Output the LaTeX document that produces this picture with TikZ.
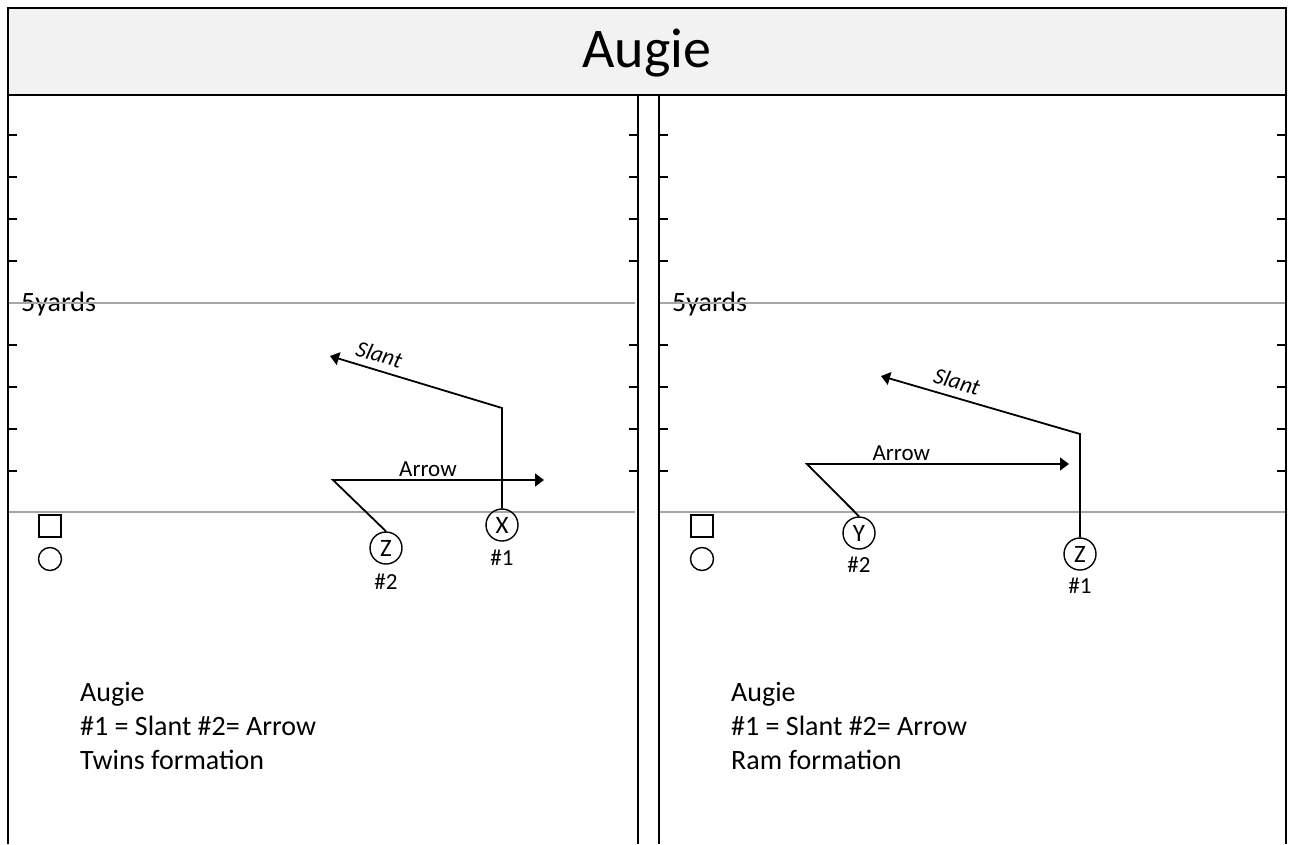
\documentclass[tikz,border=0pt]{standalone}
\usepackage{fontspec}
\setmainfont{Carlito}
\usetikzlibrary{arrows.meta}

\tikzset{
  frame/.style={draw=black, line width=1.8pt},
  yardline/.style={draw=black!35, line width=2.8pt},
  tick/.style={draw=black, line width=1.5pt},
  player/.style={draw, circle, line width=1.4pt, minimum size=32pt, inner sep=0pt,
    font=\fontsize{25}{25}\selectfont},
  center/.style={draw, rectangle, line width=1.4pt, minimum size=22pt, inner sep=0pt},
  qb/.style={draw, circle, line width=1.4pt, minimum size=23pt, inner sep=0pt},
  tag/.style={font=\fontsize{23}{23}\selectfont, inner sep=0pt},
  route/.style={draw, line width=1.8pt, -{Triangle[length=9pt,width=13pt]}},
  routelabel/.style={font=\fontsize{23}{23}\selectfont, inner sep=2pt},
  notes/.style={font=\fontsize{28}{34}\selectfont, align=left, inner sep=0pt, anchor=north west},
  yards/.style={font=\fontsize{28}{28}\selectfont, inner sep=0pt, anchor=base west}
}

\begin{document}
\begin{tikzpicture}[x=1pt, y=-1pt]
  \useasboundingbox[fill=white] (0,0) rectangle (1294,844);

  \draw[frame, fill=black!5] (8,8) rectangle (1286,95);
  \node[font=\fontsize{56}{56}\selectfont] (title) at (647,53) {Augie};

  \node[yards] (lyards) at (21,311) {5yards};
  \node[yards] (ryards) at (672,311) {5yards};

  \foreach \x in {8,659} {
    \draw[yardline] (\x,303) -- (\x+627,303);
    \draw[yardline] (\x,512) -- (\x+627,512);
  }
  \foreach \y in {135,177,219,261,345,387,429,471} {
    \draw[tick] (8,\y) -- (17,\y);
    \draw[tick] (638,\y) -- (629,\y);
    \draw[tick] (659,\y) -- (668,\y);
    \draw[tick] (1286,\y) -- (1277,\y);
  }
  \draw[frame] (8,95) -- (8,844);
  \draw[frame] (638,95) -- (638,844);
  \draw[frame] (659,95) -- (659,844);
  \draw[frame] (1286,95) -- (1286,844);

  \node[center] (lc) at (50,526) {};
  \node[qb] (lqb) at (50,559) {};
  \node[player] (lz) at (386,548) {Z};
  \node[tag] (lztag) at (386,582) {\#2};
  \node[player] (lx) at (502,525) {X};
  \node[tag] (lxtag) at (502,558) {\#1};

  \coordinate (lxbreak) at (502,408);
  \coordinate (lxend) at (330,356);
  \coordinate (lzbreak) at (333,480);
  \coordinate (lzend) at (544,480);
  \draw[route] (lx.north) -- (lxbreak) -- node[routelabel, sloped, above=5pt, pos=0.74] {\textit{Slant}} (lxend);
  \draw[route] (lz.north) -- (lzbreak) -- node[routelabel, above, pos=0.45] {Arrow} (lzend);

  \node[notes] (lnotes) at (80,682) {Augie\\\#1 = Slant \#2= Arrow\\Twins formation};

  \node[center] (rc) at (702,526) {};
  \node[qb] (rqb) at (702,559) {};
  \node[player] (ry) at (859,533) {Y};
  \node[tag] (rytag) at (859,565) {\#2};
  \node[player] (rz) at (1080,554) {Z};
  \node[tag] (rztag) at (1080,586) {\#1};

  \coordinate (rzbreak) at (1080,434);
  \coordinate (rzend) at (881,376);
  \coordinate (rybreak) at (807,464);
  \coordinate (ryend) at (1069,464);
  \draw[route] (rz.north) -- (rzbreak) -- node[routelabel, sloped, above=5pt, pos=0.64] {\textit{Slant}} (rzend);
  \draw[route] (ry.north) -- (rybreak) -- node[routelabel, above, pos=0.36] {Arrow} (ryend);

  \node[notes] (rnotes) at (731,682) {Augie\\\#1 = Slant \#2= Arrow\\Ram formation};
\end{tikzpicture}
\end{document}
